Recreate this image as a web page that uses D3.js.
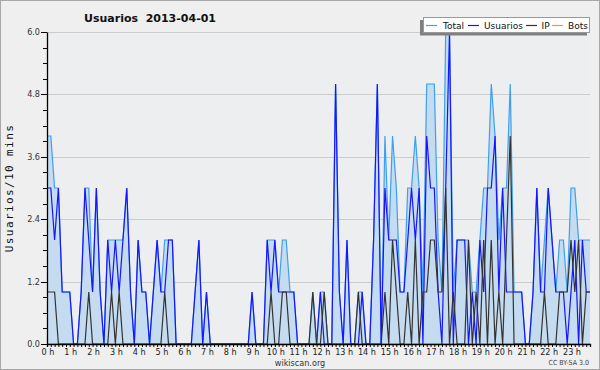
<!DOCTYPE html>
<html><head><meta charset="utf-8">
<script src="https://cdn.jsdelivr.net/npm/d3@7"></script>
<style>
html,body{margin:0;padding:0;background:#efefef;}
svg{display:block;}
</style></head><body>
<svg id="chart" width="600" height="370"></svg>
<script>
const chartTitle = "Usuarios  2013-04-01";
const yAxisTitle = "Usuarios/10 mins";
const hourLabels = ["0 h","1 h","2 h","3 h","4 h","5 h","6 h","7 h","8 h","9 h","10 h","11 h","12 h","13 h","14 h","15 h","16 h","17 h","18 h","19 h","20 h","21 h","22 h","23 h"];
const yTickValues = [0, 1.2, 2.4, 3.6, 4.8, 6.0];
const seriesNames = ["Total", "Usuarios", "IP", "Bots"];

const total = [4,4,3,3,1,1,1,0,0,1, 3,3,1,3,1,0,2,2,2,2, 2,3,1,0,2,1,1,0,1,2, 1,2,2,2,0,0,0,0,0,1,
  2,0,1,0,0,0,0,0,0,0, 0,0,0,0,1,0,0,0,2,2, 2,1,2,2,1,1,0,0,0,0, 1,0,1,1,0,0,5,1,0,2,
  0,0,1,1,0,0,2,5,0,4, 2,4,3,1,1,3,3,4,3,1, 5,5,5,2,1,6,6,1,2,2, 2,2,1,1,2,3,3,5,4,2,
  3,3,5,1,1,1,0,0,1,3, 1,2,3,2,1,2,2,1,3,3, 2,2,2,2];
const usuarios = [3,3,2,3,1,1,1,0,0,1, 3,2,1,3,1,0,2,1,2,1, 2,3,1,0,2,1,1,0,1,2, 1,1,2,2,0,0,0,0,0,1,
  2,0,1,0,0,0,0,0,0,0, 0,0,0,0,1,0,0,0,2,1, 2,1,1,1,1,1,0,0,0,0, 0,0,1,0,0,0,5,1,0,2,
  0,0,0,1,0,0,2,5,0,3, 2,2,2,1,1,2,3,2,3,0, 4,3,3,1,0,3,6,0,2,2, 2,0,1,0,2,1,3,3,4,1,
  3,1,1,1,1,1,0,0,1,3, 1,1,3,2,1,1,1,0,1,2, 0,2,1,1];
const ip = [1,1,1,0,0,0,0,0,0,0, 0,1,0,0,0,0,0,1,0,1, 0,0,0,0,0,0,0,0,0,0, 0,1,0,0,0,0,0,0,0,0,
  0,0,0,0,0,0,0,0,0,0, 0,0,0,0,0,0,0,0,0,1, 0,0,1,1,0,0,0,0,0,0, 1,0,0,1,0,0,0,0,0,0,
  0,0,1,0,0,0,0,0,0,1, 0,2,1,0,0,1,0,2,0,1, 1,2,2,1,1,3,0,1,0,0, 0,2,0,1,0,2,0,2,0,1,
  0,2,4,0,0,0,0,0,0,0, 0,1,0,0,0,1,1,1,2,1, 2,0,1,1];
const bots = [0,0,0,0,0,0,0,0,0,0, 0,0,0,0,0,0,0,0,0,0, 0,0,0,0,0,0,0,0,0,0, 0,0,0,0,0,0,0,0,0,0,
  0,0,0,0,0,0,0,0,0,0, 0,0,0,0,0,0,0,0,0,0, 0,0,0,0,0,0,0,0,0,0, 0,0,0,0,0,0,0,0,0,0,
  0,0,0,0,0,0,0,0,0,0, 0,0,0,0,0,0,0,0,0,0, 0,0,0,0,0,0,0,0,0,0, 0,0,0,0,0,0,0,0,0,0,
  0,0,0,0,0,0,0,0,0,0, 0,0,0,0,0,0,0,0,0,0, 0,0,0,0];

const colors = {Total: "#3d9ff0", Usuarios: "#1515ff", IP: "#333333", Bots: "#ff9900"};
const seriesData = {Total: total, Usuarios: usuarios, IP: ip, Bots: bots};

const svg = d3.select("#chart");
const L = 47, R = 590, T = 32, B = 344;
const n = usuarios.length;
const x = d3.scaleLinear().domain([0, n - 1]).range([L, R]);
const y = d3.scaleLinear().domain([0, 6]).range([B, T]);

// frame
svg.append("rect").attr("x", 0.5).attr("y", 0.5).attr("width", 599).attr("height", 369)
  .attr("fill", "#efefef").attr("stroke", "#a8a8a8");
svg.append("rect").attr("x", L).attr("y", T).attr("width", R - L).attr("height", B - T).attr("fill", "#edeef0");

// grid
svg.append("g").selectAll("line").data(yTickValues.filter(v => v > 0)).join("line")
  .attr("x1", L).attr("x2", R)
  .attr("y1", d => Math.round(y(d)) + 0.5).attr("y2", d => Math.round(y(d)) + 0.5)
  .attr("stroke", "#cccccc").attr("stroke-width", 1);

// area
const area = d3.area().x((d, i) => x(i)).y0(y(0)).y1(d => y(d));
svg.append("path").datum(total).attr("d", area).attr("fill", "#c5dcf0");

const line = d3.line().x((d, i) => x(i)).y(d => y(d));
["Bots", "Total", "Usuarios", "IP"].forEach(name => {
  svg.append("path").datum(seriesData[name]).attr("d", line)
    .attr("fill", "none").attr("stroke", colors[name]).attr("stroke-width", 1.2)
    .attr("stroke-linejoin", "miter");
});

// y axis
const yMinor = d3.range(0, 6.0001, 0.3);
const yAxis = d3.axisLeft(y).tickValues(yMinor)
  .tickSize(0).tickFormat(() => "");
const gy = svg.append("g").attr("transform", `translate(${L},0)`);
gy.call(yAxis);
gy.select(".domain").attr("stroke", "#000").attr("stroke-width", 1.3);
gy.selectAll(".tick line").remove();
gy.selectAll(".tickmark").data(yMinor).join("line")
  .attr("x1", d => (Math.abs(d / 1.2 - Math.round(d / 1.2)) < 1e-6) ? -6 : -4).attr("x2", 0)
  .attr("y1", d => Math.round(y(d)) + 0.5).attr("y2", d => Math.round(y(d)) + 0.5)
  .attr("stroke", "#000");
gy.selectAll(".ylab").data(yTickValues).join("text")
  .attr("x", -7).attr("y", d => y(d) + 3)
  .attr("text-anchor", "end").attr("font-family", "DejaVu Sans Condensed, DejaVu Sans").attr("font-size", 9)
  .attr("fill", "#333").text(d => d.toFixed(1));

// x axis
const gx = svg.append("g").attr("transform", `translate(0,${B})`);
gx.call(d3.axisBottom(x).tickValues(d3.range(0, 144)).tickSize(3).tickFormat(() => ""));
gx.select(".domain").attr("stroke", "#000").attr("stroke-width", 1.3);
gx.selectAll(".tick line").attr("stroke", "#000");
gx.selectAll(".hlab").data(hourLabels).join("text")
  .attr("x", (d, i) => x(i * 6) + 1).attr("y", 11)
  .attr("text-anchor", "middle").attr("font-family", "DejaVu Sans Condensed, DejaVu Sans").attr("font-size", 9)
  .attr("fill", "#222").text(d => d);

// titles
svg.append("text").attr("x", 150).attr("y", 22).attr("text-anchor", "middle")
  .attr("font-family", "DejaVu Sans").attr("font-weight", "bold").attr("font-size", 11)
  .style("white-space", "pre").attr("fill", "#111").text(chartTitle);
svg.append("text").attr("transform", "translate(13,188) rotate(-90)").attr("text-anchor", "middle")
  .attr("font-family", "DejaVu Sans Mono").attr("font-size", 11).attr("letter-spacing", 1.4)
  .attr("fill", "#111").text(yAxisTitle);
svg.append("text").attr("x", 300).attr("y", 366).attr("text-anchor", "middle")
  .attr("font-family", "DejaVu Sans Condensed, DejaVu Sans").attr("font-size", 9).attr("fill", "#333").text("wikiscan.org");
svg.append("text").attr("x", 589).attr("y", 365).attr("text-anchor", "end")
  .attr("font-family", "DejaVu Sans Condensed, DejaVu Sans").attr("font-size", 7).attr("fill", "#444").text("CC BY-SA 3.0");

// legend
const lg = svg.append("g");
lg.append("rect").attr("x", 420).attr("y", 20).attr("width", 167).attr("height", 15.5).attr("fill", "#808080");
lg.append("rect").attr("x", 423.5).attr("y", 17.5).attr("width", 166).attr("height", 15).attr("fill", "#fff").attr("stroke", "#999");
const legendPos = [{tx: 443, lx: 426}, {tx: 484, lx: 468}, {tx: 541.5, lx: 526}, {tx: 568, lx: 552}];
seriesNames.forEach((name, i) => {
  const p = legendPos[i];
  lg.append("line").attr("x1", p.lx).attr("x2", p.lx + 11).attr("y1", 25.5).attr("y2", 25.5)
    .attr("stroke", colors[name]).attr("stroke-width", 1.2);
  lg.append("text").attr("x", p.tx).attr("y", 29).attr("font-family", "DejaVu Sans").attr("font-size", 9)
    .attr("fill", "#111").text(name);
});
</script>
</body></html>
